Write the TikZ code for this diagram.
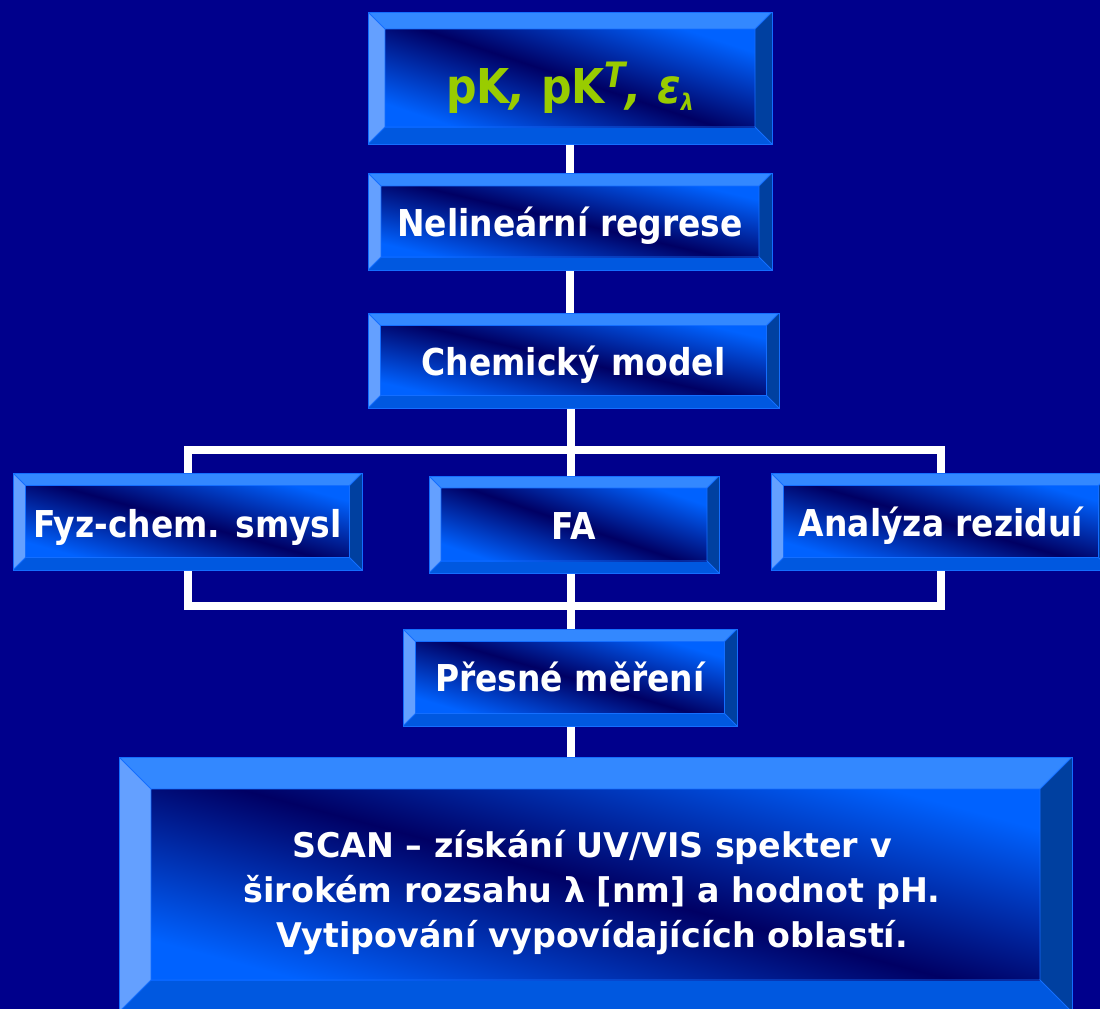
\documentclass[tikz,border=0pt]{standalone}
\usepackage{fontspec}
\newfontfamily\tah[FakeStretch=0.89]{DejaVu Sans}
\newfontfamily\tahw[FakeStretch=0.98]{DejaVu Sans}
\definecolor{bgblue}{RGB}{0,0,140}
\definecolor{bevT}{RGB}{51,136,255}
\definecolor{bevL}{RGB}{100,160,255}
\definecolor{bevB}{RGB}{0,88,224}
\definecolor{bevR}{RGB}{0,64,160}
\definecolor{edge}{RGB}{20,110,255}
\definecolor{fbright}{RGB}{0,98,255}
\definecolor{fdark}{RGB}{0,0,100}
\definecolor{pkgreen}{RGB}{153,204,0}
\pgfdeclareverticalshading{bface}{100bp}{color(0bp)=(fbright); color(25bp)=(fbright); color(50bp)=(fdark); color(75bp)=(fbright); color(100bp)=(fbright)}
\pgfdeclarelayer{bg}
\pgfdeclarelayer{wires}
\pgfsetlayers{bg,wires,main}
\tikzset{
  btn/.style 2 args={rectangle, inner sep=0pt, outer sep=0pt, draw=edge, line width=1pt, text=white,
    font=\tah\bfseries\fontsize{37}{44}\selectfont, text height=30pt, text depth=0pt,
    path picture={
      \path (path picture bounding box.north west) coordinate (pA)
            (path picture bounding box.north east) coordinate (pB)
            (path picture bounding box.south east) coordinate (pC)
            (path picture bounding box.south west) coordinate (pD)
            ([xshift=#1pt,yshift=-#1pt]path picture bounding box.north west) coordinate (qA)
            ([xshift=-#1pt,yshift=-#1pt]path picture bounding box.north east) coordinate (qB)
            ([xshift=-#1pt,yshift=#1pt]path picture bounding box.south east) coordinate (qC)
            ([xshift=#1pt,yshift=#1pt]path picture bounding box.south west) coordinate (qD);
      \fill[bevT] (pA)--(pB)--(qB)--(qA)--cycle;
      \fill[bevR] (pB)--(pC)--(qC)--(qB)--cycle;
      \fill[bevB] (pC)--(pD)--(qD)--(qC)--cycle;
      \fill[bevL] (pD)--(pA)--(qA)--(qD)--cycle;
      \shade[shading=bface, shading angle=#2] (qD) rectangle (qB);
      \draw[edge, line width=0.8pt] (qA)--(qB)--(qC)--(qD)--cycle (pA)--(qA) (pB)--(qB) (pC)--(qC) (pD)--(qD);
    }},
  wire/.style={draw=white, line width=8pt},
}
\begin{document}
\begin{tikzpicture}[x=1pt,y=-1pt]
\useasboundingbox (0,0) rectangle (1100,1009);
\begin{pgfonlayer}{bg}
  \fill[bgblue] (0,0) rectangle (1100,1009);
\end{pgfonlayer}

\node[btn={17}{-18.3}, text=pkgreen, font=\tah\bfseries\fontsize{48}{50}\selectfont, text height=50pt,
      minimum width=404pt, minimum height=132pt] (top) at (570,78)
  {pK{\itshape,} pK\raisebox{16pt}{\fontsize{35}{35}\selectfont\itshape T}{\itshape, ε\raisebox{-7pt}{\fontsize{23}{23}\selectfont λ}}};
\node[btn={13}{-13.2}, minimum width=404pt, minimum height=97pt] (nel) at (570,221.5) {Nelineární regrese};
\node[btn={12.5}{-12.8}, text height=29pt, minimum width=411pt, minimum height=95pt] (chem) at (573.5,360.5) {Chemický model};
\node[btn={12.5}{-15.5}, text height=31pt, minimum width=349pt, minimum height=97pt] (fyz) at (187.5,521.5) {Fyz-chem. smysl};
\node[btn={12}{-18.9}, text height=29pt, minimum width=290pt, minimum height=97pt] (fa) at (574,524.5) {FA};
\node[btn={12.5}{-15.9}, minimum width=340pt, minimum height=97pt] (ana) at (941,521.5) {Analýza reziduí};
\node[btn={12.5}{-16.3}, text height=28pt, minimum width=334pt, minimum height=97pt] (prs) at (570,677.5) {Přesné měření};
\node[btn={32}{-15}, text height=0pt, minimum width=953pt, minimum height=255pt] (scan) at (595.5,884.5) {};
\node[text=white, font=\tahw\bfseries\fontsize{34}{45}\selectfont, align=center, inner sep=0pt] (scantext) at (592,893)
  {SCAN – získání UV/VIS spekter v\\ širokém rozsahu λ [nm] a hodnot pH.\\ Vytipování vypovídajících oblastí.};

\coordinate (jt) at (571,450);
\coordinate (jb) at (571,606);
\begin{pgfonlayer}{wires}
  \draw[wire] (top.south) -- (nel.north);
  \draw[wire] (nel.south) -- (nel.south |- chem.north);
  \draw[wire] (jt |- chem.south) -- (jt |- prs.north);
  \draw[wire] (fyz.center |- jt) rectangle (ana.center |- jb);
  \draw[wire] (jt |- prs.south) -- (jt |- scan.north);
\end{pgfonlayer}
\end{tikzpicture}
\end{document}
